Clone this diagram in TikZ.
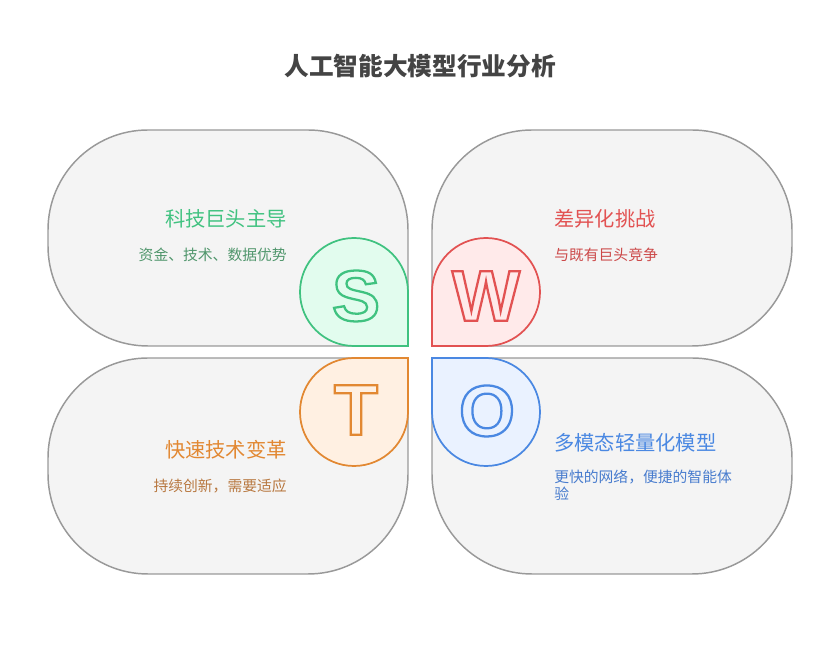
\documentclass[tikz,border=0pt]{standalone}
\usepackage{fontspec}
\newfontfamily\cjk{Noto Sans CJK SC}
\newfontfamily\letterfont{Liberation Sans}
\definecolor{boxgray}{RGB}{244,244,244}
\definecolor{edgegray}{RGB}{153,153,153}
\definecolor{headgray}{RGB}{68,68,68}
\definecolor{Sline}{RGB}{64,194,128}
\definecolor{Sfill}{RGB}{226,252,238}
\definecolor{Stext}{RGB}{80,150,108}
\definecolor{Wline}{RGB}{226,82,82}
\definecolor{Wfill}{RGB}{255,234,234}
\definecolor{Wtext}{RGB}{204,72,72}
\definecolor{Tline}{RGB}{226,136,50}
\definecolor{Tfill}{RGB}{255,240,226}
\definecolor{Ttext}{RGB}{184,120,64}
\definecolor{Oline}{RGB}{74,136,226}
\definecolor{Ofill}{RGB}{234,242,255}
\definecolor{Otext}{RGB}{72,124,206}
% hollow letter: fill colour, then stroke colour as r g b
\newcommand\hollowletter[3]{{\color{#2}\special{pdf:literal direct 2 Tr 1.7 w #3 RG}#1\special{pdf:literal direct 0 Tr}}}

\begin{document}
\begin{tikzpicture}[x=0.75pt,y=0.75pt,
        box/.style={draw=edgegray,fill=boxgray,line width=1.1pt},
        drop/.style={line width=1.3pt},
        head/.style={font=\cjk\fontsize{15.2}{18}\selectfont,inner sep=0pt},
        sub/.style={font=\cjk\fontsize{11.1}{12.75}\selectfont,inner sep=0pt,align=left},
        letter/.style={font=\letterfont\bfseries\fontsize{54}{54}\selectfont,inner sep=0pt}]
                \useasboundingbox (0,0) rectangle (840,646);

                \node[font=\cjk\bfseries\fontsize{18.5}{22}\selectfont,text=headgray] (maintitle) at (420,580) {人工智能大模型行业分析};

                % four rounded boxes, sharp corner towards the middle
                \draw[box] (408,300) -- (148,300) arc(270:180:100) -- (48,416) arc(180:90:100) -- (308,516) arc(90:0:100) -- cycle;
                \draw[box] (432,300) -- (432,416) arc(180:90:100) -- (692,516) arc(90:0:100) -- (792,400) arc(0:-90:100) -- cycle;
                \draw[box] (408,288) -- (148,288) arc(90:180:100) -- (48,172) arc(180:270:100) -- (308,72) arc(270:360:100) -- cycle;
                \draw[box] (432,288) -- (432,172) arc(180:270:100) -- (692,72) arc(270:360:100) -- (792,188) arc(0:90:100) -- cycle;

                % drops
                \draw[drop,draw=Sline,fill=Sfill] (408,300) -- (354,300) arc(-90:-360:54) -- cycle;
                \draw[drop,draw=Wline,fill=Wfill] (432,300) -- (432,354) arc(180:-90:54) -- cycle;
                \draw[drop,draw=Tline,fill=Tfill] (408,288) -- (408,234) arc(0:-270:54) -- cycle;
                \draw[drop,draw=Oline,fill=Ofill] (432,288) -- (486,288) arc(90:-180:54) -- cycle;

                \node[letter] (S) at (356,350) {\hollowletter{S}{Sfill}{0.251 0.761 0.502}};
                \node[letter] (W) at (486,350) {\hollowletter{W}{Wfill}{0.886 0.322 0.322}};
                \node[letter] (T) at (356,236) {\hollowletter{T}{Tfill}{0.886 0.533 0.196}};
                \node[letter] (O) at (487,235) {\hollowletter{O}{Ofill}{0.290 0.533 0.886}};

                % texts
                \node[head,text=Sline,anchor=east] (Shead) at (287,427) {科技巨头主导};
                \node[sub,text=Stext,anchor=east] (Ssub) at (287,391) {资金、技术、数据优势};
                \node[head,text=Wline,anchor=west] (Whead) at (554,427) {差异化挑战};
                \node[sub,text=Wtext,anchor=west] (Wsub) at (554,391) {与既有巨头竞争};
                \node[head,text=Tline,anchor=east] (Thead) at (287,196) {快速技术变革};
                \node[sub,text=Ttext,anchor=east] (Tsub) at (287,160) {持续创新，需要适应};
                \node[head,text=Oline,anchor=west] (Ohead) at (554,203) {多模态轻量化模型};
                \node[sub,text=Otext,anchor=west] (Osub) at (554,160.5) {更快的网络，便捷的智能体\\验};
            \end{tikzpicture}
\end{document}
